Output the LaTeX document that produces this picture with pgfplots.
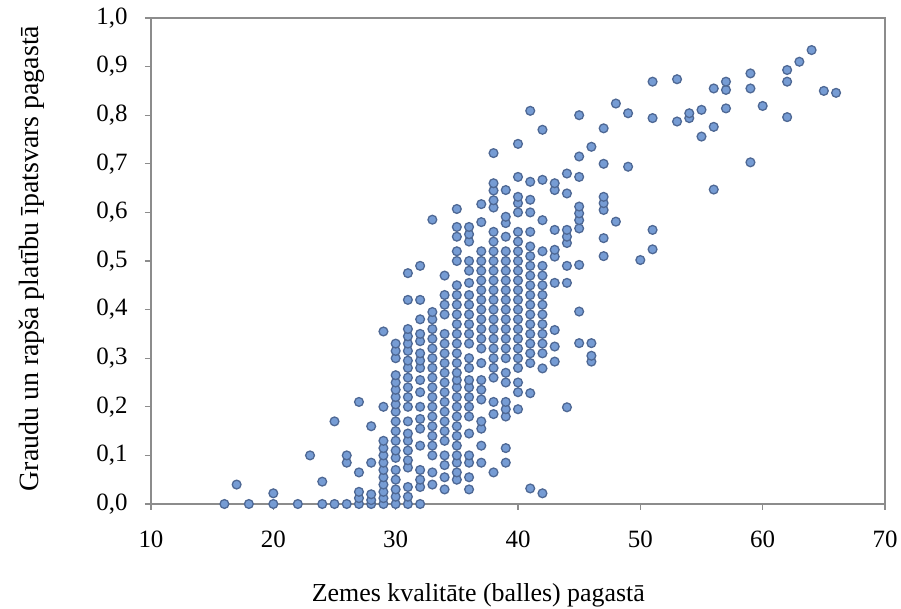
\documentclass[border=0pt]{standalone}
\usepackage{fontspec}
\setmainfont{Liberation Serif}
\usepackage{pgfplots}
\pgfplotsset{compat=1.18}
\usepackage{pgfplotstable}

\definecolor{mfill}{RGB}{118,156,212}
\definecolor{mdraw}{RGB}{78,104,148}
\definecolor{axgray}{RGB}{140,140,140}

% x = zemes kvalitate (balles), y = graudu un rapsa platibu ipatsvars
\pgfplotstableread{
x y
16 0
17 0.04
18 0
20 0
20 0.022
22 0
23 0.10
24 0
24 0.046
25 0
25 0.17
26 0
26 0.085
26 0.10
27 0
27 0.012
27 0.025
27 0.065
27 0.21
28 0
28 0.008
28 0.02
28 0.085
28 0.16
29 0
29 0.012
29 0.025
29 0.04
29 0.055
29 0.07
29 0.085
29 0.10
29 0.115
29 0.13
29 0.20
29 0.355
30 0
30 0.015
30 0.03
30 0.05
30 0.07
30 0.095
30 0.11
30 0.13
30 0.15
30 0.17
30 0.19
30 0.205
30 0.22
30 0.235
30 0.25
30 0.265
30 0.30
30 0.315
30 0.33
31 0
31 0.015
31 0.035
31 0.075
31 0.09
31 0.11
31 0.13
31 0.145
31 0.17
31 0.20
31 0.22
31 0.24
31 0.26
31 0.28
31 0.295
31 0.315
31 0.33
31 0.345
31 0.36
31 0.42
31 0.475
32 0
32 0.035
32 0.05
32 0.07
32 0.12
32 0.155
32 0.175
32 0.20
32 0.23
32 0.255
32 0.28
32 0.295
32 0.31
32 0.335
32 0.35
32 0.38
32 0.42
32 0.49
33 0.04
33 0.065
33 0.10
33 0.12
33 0.14
33 0.16
33 0.18
33 0.20
33 0.22
33 0.24
33 0.26
33 0.28
33 0.30
33 0.32
33 0.34
33 0.36
33 0.38
33 0.395
33 0.585
34 0.03
34 0.055
34 0.08
34 0.10
34 0.13
34 0.15
34 0.17
34 0.19
34 0.21
34 0.23
34 0.25
34 0.27
34 0.29
34 0.31
34 0.33
34 0.35
34 0.39
34 0.41
34 0.43
34 0.47
35 0.05
35 0.065
35 0.085
35 0.10
35 0.12
35 0.14
35 0.16
35 0.18
35 0.20
35 0.22
35 0.24
35 0.255
35 0.27
35 0.29
35 0.31
35 0.33
35 0.35
35 0.37
35 0.39
35 0.41
35 0.43
35 0.45
35 0.50
35 0.52
35 0.55
35 0.57
35 0.607
36 0.03
36 0.055
36 0.085
36 0.10
36 0.145
36 0.18
36 0.20
36 0.22
36 0.24
36 0.255
36 0.28
36 0.30
36 0.33
36 0.35
36 0.37
36 0.39
36 0.41
36 0.43
36 0.455
36 0.48
36 0.50
36 0.54
36 0.555
36 0.57
37 0.085
37 0.12
37 0.155
37 0.17
37 0.215
37 0.235
37 0.255
37 0.29
37 0.32
37 0.34
37 0.36
37 0.38
37 0.40
37 0.42
37 0.44
37 0.46
37 0.48
37 0.50
37 0.52
37 0.58
37 0.617
38 0.065
38 0.185
38 0.21
38 0.26
38 0.28
38 0.30
38 0.32
38 0.34
38 0.36
38 0.38
38 0.40
38 0.42
38 0.44
38 0.46
38 0.48
38 0.50
38 0.52
38 0.54
38 0.56
38 0.61
38 0.625
38 0.645
38 0.66
38 0.722
39 0.085
39 0.115
39 0.18
39 0.195
39 0.21
39 0.25
39 0.27
39 0.30
39 0.32
39 0.34
39 0.36
39 0.38
39 0.40
39 0.42
39 0.44
39 0.46
39 0.48
39 0.50
39 0.52
39 0.55
39 0.578
39 0.591
39 0.646
40 0.195
40 0.23
40 0.25
40 0.28
40 0.30
40 0.32
40 0.34
40 0.36
40 0.38
40 0.40
40 0.42
40 0.44
40 0.46
40 0.48
40 0.50
40 0.52
40 0.54
40 0.56
40 0.60
40 0.619
40 0.632
40 0.673
40 0.741
41 0.032
41 0.228
41 0.29
41 0.31
41 0.33
41 0.35
41 0.37
41 0.39
41 0.41
41 0.43
41 0.45
41 0.47
41 0.49
41 0.51
41 0.53
41 0.56
41 0.60
41 0.626
41 0.663
41 0.809
42 0.022
42 0.279
42 0.31
42 0.33
42 0.35
42 0.37
42 0.39
42 0.41
42 0.43
42 0.45
42 0.47
42 0.49
42 0.52
42 0.584
42 0.667
42 0.770
43 0.293
43 0.324
43 0.358
43 0.455
43 0.509
43 0.523
43 0.564
43 0.646
43 0.660
44 0.199
44 0.455
44 0.49
44 0.537
44 0.55
44 0.564
44 0.639
44 0.68
45 0.331
45 0.396
45 0.492
45 0.567
45 0.584
45 0.598
45 0.612
45 0.673
45 0.715
45 0.80
46 0.293
46 0.305
46 0.331
46 0.735
47 0.51
47 0.547
47 0.605
47 0.619
47 0.632
47 0.70
47 0.773
48 0.581
48 0.824
49 0.694
49 0.804
50 0.502
51 0.524
51 0.564
51 0.794
51 0.869
53 0.787
53 0.874
54 0.794
54 0.804
55 0.756
55 0.811
56 0.647
56 0.776
56 0.855
57 0.814
57 0.852
57 0.869
59 0.703
59 0.855
59 0.886
60 0.819
62 0.796
62 0.869
62 0.893
63 0.91
64 0.934
65 0.850
66 0.846
}\datatable

\begin{document}
\begin{tikzpicture}
\begin{axis}[
  scale only axis,
  width=734bp, height=486bp,
  xmin=10, xmax=70, ymin=0, ymax=1,
  xtick={10,20,...,70},
  ytick={0,0.1,...,1.0},
  tick pos=left,
  tick align=outside,
  major tick length=6bp,
  axis line style={axgray, line width=1.2bp},
  every tick/.style={axgray, line width=1.2bp},
  tick label style={font=\fontsize{25}{29}\selectfont},
  /pgf/number format/assume math mode=true,
  y tick label style={
    /pgf/number format/fixed,
    /pgf/number format/fixed zerofill,
    /pgf/number format/precision=1,
    /pgf/number format/use comma,
    xshift=-14bp},
  x tick label style={yshift=-17bp},
  xlabel={Zemes kvalitāte (balles) pagastā},
  ylabel={Graudu un rapša platību īpatsvars pagastā},
  xlabel style={font=\fontsize{26}{30}\selectfont,
    at={(axis description cs:0.446,0)}, anchor=center, yshift=-91bp},
  ylabel style={font=\fontsize{28}{32}\selectfont,
    at={(axis description cs:-0.162,0.505)}, anchor=center},
  clip=false,
]
\addplot[only marks, mark=*, mark size=4.4bp,
  mark options={fill=mfill, draw=mdraw, line width=1.3bp}]
  table[x=x, y=y] {\datatable};
\end{axis}
\pgfresetboundingbox
\path (-151bp,-105bp) rectangle (750bp,504bp);
\end{tikzpicture}
\end{document}
